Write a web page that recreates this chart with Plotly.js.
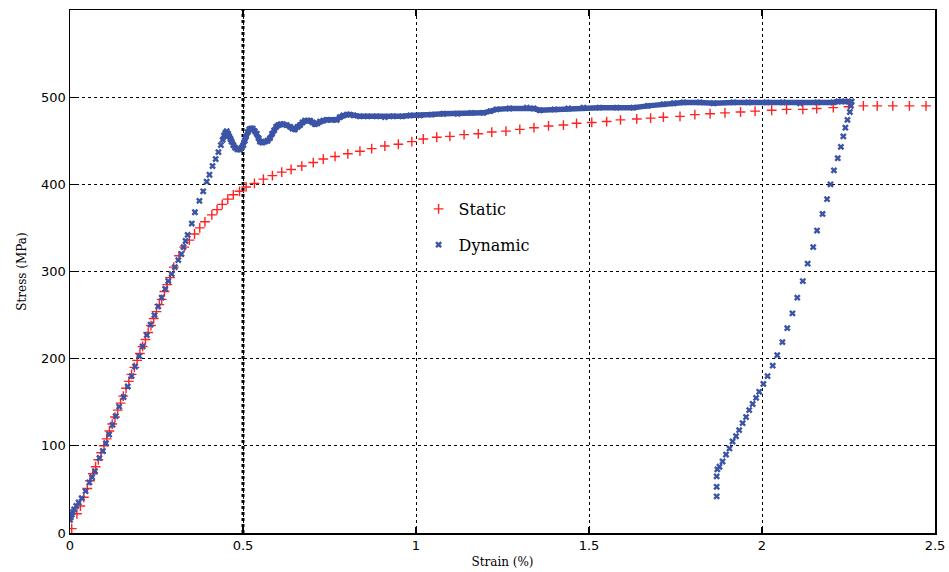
<!DOCTYPE html>
<html>
<head>
<meta charset="utf-8">
<script src="https://cdn.plot.ly/plotly-3.0.1.min.js"></script>
<style>html,body{margin:0;padding:0;background:#fff;}#chart{width:949px;height:572px;}</style>
</head>
<body>
<div id="chart"></div>
<script>
// Static test (red +)
const staticStrain = [0.005,0.02,0.03,0.04,0.05,0.058,0.066,0.074,0.082,0.09,0.098,0.106,0.114,0.122,0.13,0.138,0.146,0.154,0.162,0.17,0.178,0.186,0.194,0.202,0.21,0.218,0.226,0.234,0.242,0.25,0.258,0.265,0.273,0.281,0.289,0.3,0.315,0.33,0.345,0.36,0.375,0.39,0.41,0.425,0.44,0.456,0.472,0.49,0.509,0.533,0.559,0.585,0.612,0.639,0.67,0.703,0.732,0.766,0.803,0.838,0.872,0.91,0.949,0.988,1.021,1.06,1.098,1.139,1.18,1.219,1.26,1.30,1.341,1.383,1.426,1.464,1.508,1.551,1.591,1.638,1.678,1.715,1.763,1.806,1.85,1.893,1.938,1.98,2.028,2.071,2.118,2.158,2.206,2.25,2.293,2.333,2.378,2.426,2.474];
const staticStress = [5,22,31,41,51,60,68,76,84,92,100,108,117,125,133,141,149,157,166,174,182,190,198,206,214,222,230,238,246,254,262,268,277,285,293,305,318,328,336,343,350,357,365,371,377,383,388,392,397,401,406,410,414,417,421,425,429,432,435,438,441,444,446,449,452,454,455,457,458,460,461,463,465,467,468,470,471,472,474,475,476,477,478,480,481,482,483,484,485,486,486,487,488,489,490,490,490,490,490];

// Dynamic test (blue x)
const dynamicStrain = [0,0.002,0.005,0.008,0.012,0.018,0.025,0.034,0.045,0.056,0.064,0.072,0.085,0.095,0.104,0.113,0.123,0.132,0.142,0.155,0.167,0.178,0.188,0.2,0.21,0.222,0.233,0.244,0.255,0.265,0.275,0.284,0.294,0.303,0.313,0.322,0.328,0.334,0.34,0.352,0.361,0.374,0.385,0.395,0.403,0.412,0.421,0.429,0.436,0.441,0.445,0.449,0.453,0.457,0.46,0.464,0.467,0.472,0.477,0.484,0.491,0.496,0.501,0.505,0.509,0.514,0.518,0.523,0.528,0.534,0.54,0.545,0.549,0.556,0.564,0.571,0.578,0.584,0.59,0.596,0.602,0.609,0.616,0.626,0.636,0.643,0.65,0.658,0.665,0.672,0.679,0.687,0.694,0.701,0.708,0.715,0.723,0.732,0.742,0.756,0.771,0.78,0.79,0.8,0.809,0.82,0.838,0.86,0.886,0.91,0.934,0.96,0.983,1.012,1.045,1.079,1.12,1.16,1.195,1.215,1.233,1.27,1.32,1.34,1.358,1.4,1.44,1.484,1.53,1.58,1.628,1.67,1.715,1.745,1.773,1.82,1.86,1.917,1.96,2.013,2.06,2.11,2.16,2.206,2.22,2.24,2.259,2.257,2.254,2.247,2.241,2.235,2.228,2.219,2.208,2.198,2.188,2.175,2.159,2.148,2.132,2.118,2.102,2.088,2.073,2.059,2.044,2.031,2.016,2.004,1.992,1.983,1.973,1.963,1.954,1.944,1.934,1.925,1.915,1.906,1.896,1.886,1.877,1.871,1.869,1.869,1.869];
const dynamicStress = [15,18,21,24,27,31,35,40,48,58,64,71,86,94,103,113,124,134,145,156,168,180,191,203,214,227,239,250,260,270,280,289,297,305,313,320,328,335,342,355,368,381,392,403,411,421,429,437,445,451,456,459,461,458,455,452,449,445,442,440,440,442,445,450,455,460,463,464,464,461,458,453,449,448,449,450,453,458,462,466,468,469,469,468,466,464,463,466,468,471,473,473,473,471,469,470,472,473,474,474,474,477,479,480,480,479,478,478,478,477,478,478,479,479,480,481,481,482,482,484,486,487,488,487,485,486,487,488,488,488,488,490,492,493,494,494,493,494,494,494,494,493,494,494,495,495,495,490,483,474,465,455,443,430,416,400,383,366,347,328,309,289,270,252,235,219,204,192,180,171,162,155,148,141,133,126,118,111,105,97,90,82,76,73,65,53,42];

const xTicks = [0, 0.5, 1, 1.5, 2, 2.5];
const xTickText = ['0', '0.5', '1', '1.5', '2', '2.5'];
const yTicks = [0, 100, 200, 300, 400, 500];
const yTickText = ['0', '100', '200', '300', '400', '500'];

const blue = '#3b54a5';
const red = '#ff2222';
const serif = 'DejaVu Serif';

// dense plateau band of the dynamic test (loading part only, strain >= 0.44)
const peakIdx = dynamicStrain.indexOf(Math.max(...dynamicStrain));
const bandStrain = [], bandStress = [];
for (let i = 0; i <= peakIdx; i++) {
  if (dynamicStrain[i] >= 0.44) { bandStrain.push(dynamicStrain[i]); bandStress.push(dynamicStress[i]); }
}

const traces = [
  {x: bandStrain, y: bandStress, mode: 'lines', line: {color: blue, width: 5.5}, showlegend: false, hoverinfo: 'skip'},
  {x: staticStrain, y: staticStress, mode: 'markers', name: 'Static', legendgroup: 'a',
   marker: {symbol: 'cross-thin', size: 7, color: red, line: {color: red, width: 1.4}}},
  {x: dynamicStrain, y: dynamicStress, mode: 'markers', name: 'Dynamic', legendgroup: 'b',
   marker: {symbol: 'x', size: 6, color: blue, line: {width: 0}}}
];

const axisFont = {family: 'DejaVu Sans', size: 13, color: '#000'};

const layout = {
  width: 949, height: 572,
  margin: {l: 70, r: 14, t: 10, b: 39},
  paper_bgcolor: '#fff', plot_bgcolor: '#fff',
  font: {family: 'DejaVu Sans', color: '#000'},
  showlegend: true,
  legend: {x: 0.403, y: 0.652, xanchor: 'left', yanchor: 'top', bgcolor: 'rgba(0,0,0,0)',
           font: {family: serif, size: 16, color: '#000'},
           traceorder: 'grouped', tracegroupgap: 12, itemwidth: 30},
  xaxis: {
    range: [0, 2.5], tickvals: xTicks, ticktext: xTickText,
    ticks: 'inside', ticklen: 6, tickcolor: '#000', tickwidth: 1.2,
    showline: true, linecolor: '#000', linewidth: 1.5, mirror: 'ticks',
    showgrid: true, gridcolor: '#000', gridwidth: 1, griddash: 'dot',
    zeroline: false, tickfont: axisFont,
    title: {text: 'Strain (%)', font: {family: serif, size: 12, color: '#000'}, standoff: 5}
  },
  yaxis: {
    range: [0, 600], tickvals: yTicks, ticktext: yTickText,
    ticks: 'inside', ticklen: 6, tickcolor: '#000', tickwidth: 1.2,
    showline: true, linecolor: '#000', linewidth: 1.5, mirror: 'ticks',
    showgrid: true, gridcolor: '#000', gridwidth: 1, griddash: 'dot',
    zeroline: false, tickfont: axisFont,
    title: {text: 'Stress (MPa)', font: {family: serif, size: 12, color: '#000'}, standoff: 12}
  },
  shapes: [
    {type: 'line', xref: 'x', yref: 'paper', x0: xTicks[1], x1: xTicks[1], y0: 0, y1: 1,
     line: {color: '#000', width: 3, dash: 'dot'}, layer: 'below'}
  ]
};

Plotly.newPlot('chart', traces, layout, {displayModeBar: false, staticPlot: true});
</script>
</body>
</html>
